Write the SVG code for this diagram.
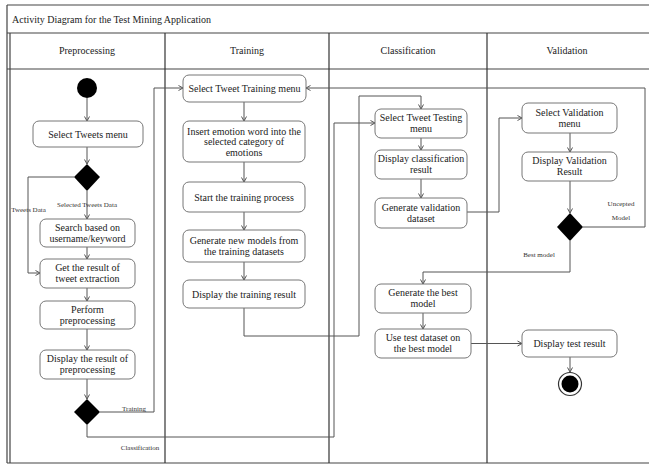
<svg xmlns="http://www.w3.org/2000/svg" width="649" height="466" viewBox="0 0 649 466">
  <style>
    .frame { fill: none; stroke: #444; stroke-width: 1.2; }
    .lane { stroke: #333; stroke-width: 1.2; }
    .box { fill: #fff; stroke: #777; stroke-width: 1; }
    .t { font-family: "Liberation Serif", "Times New Roman", serif; font-size: 10px; fill: #222; text-anchor: middle; }
    .title { font-family: "Liberation Serif", "Times New Roman", serif; font-size: 10px; fill: #222; }
    .lbl { font-family: "Liberation Serif", "Times New Roman", serif; font-size: 7px; fill: #333; text-anchor: middle; }
    .edge { fill: none; stroke: #555; stroke-width: 1; marker-end: url(#arrow); }
    .dec { fill: #000; }
  </style>
  <defs>
    <marker id="arrow" markerWidth="8" markerHeight="8" refX="7" refY="4" orient="auto" markerUnits="userSpaceOnUse">
      <polyline points="2.5,1.5 7,4 2.5,6.5" fill="none" stroke="#555" stroke-width="1"/>
    </marker>
  </defs>

  <rect width="649" height="466" fill="#fff"/>

  <!-- frame, title bar and swimlane headers -->
  <g id="frame">
    <line class="frame" x1="7" y1="5" x2="649" y2="5"/>
    <line class="frame" x1="7" y1="5" x2="7" y2="463"/>
    <line class="frame" x1="10" y1="33" x2="10" y2="463"/>
    <line class="frame" x1="7" y1="33" x2="649" y2="33"/>
    <line class="frame" x1="7" y1="69" x2="649" y2="69"/>
    <line class="frame" x1="7" y1="463" x2="649" y2="463"/>
    <line class="lane" x1="165" y1="33" x2="165" y2="463"/>
    <line class="lane" x1="329" y1="33" x2="329" y2="463"/>
    <line class="lane" x1="487" y1="33" x2="487" y2="463"/>
    <text class="title" x="12" y="23">Activity Diagram for the Test Mining Application</text>
    <text class="t" x="87" y="54">Preprocessing</text>
    <text class="t" x="247" y="54">Training</text>
    <text class="t" x="408" y="54">Classification</text>
    <text class="t" x="567" y="54">Validation</text>
  </g>

  <!-- connectors -->
  <g id="connectors">
    <line class="edge" x1="87" y1="98" x2="87" y2="121"/>
    <line class="edge" x1="87" y1="147" x2="87" y2="164"/>
    <line class="edge" x1="87" y1="191" x2="87" y2="219"/>
    <polyline class="edge" points="74,177 28,177 28,273 40,273"/>
    <line class="edge" x1="87" y1="247" x2="87" y2="259"/>
    <line class="edge" x1="87" y1="288" x2="87" y2="301"/>
    <line class="edge" x1="87" y1="329" x2="87" y2="350"/>
    <line class="edge" x1="87" y1="379" x2="87" y2="399"/>
    <polyline class="edge" points="100,412 154,412 154,88 183,88"/>
    <polyline class="edge" points="87,425 87,437 334,437 334,123 375,123"/>
    <line class="edge" x1="244" y1="102" x2="244" y2="121"/>
    <line class="edge" x1="244" y1="162" x2="244" y2="182"/>
    <line class="edge" x1="244" y1="212" x2="244" y2="230"/>
    <line class="edge" x1="244" y1="262" x2="244" y2="280"/>
    <polyline class="edge" points="244,308 244,336 359,336 359,96 421,96 421,109"/>
    <line class="edge" x1="421" y1="138" x2="421" y2="150"/>
    <line class="edge" x1="421" y1="179" x2="421" y2="198"/>
    <polyline class="edge" points="467,212 499,212 499,118 522,118"/>
    <line class="edge" x1="570" y1="133" x2="570" y2="152"/>
    <line class="edge" x1="570" y1="181" x2="570" y2="213"/>
    <polyline class="edge" points="583,227 645,227 645,88 306,88"/>
    <polyline class="edge" points="570,241 570,272 423,272 423,284"/>
    <line class="edge" x1="423" y1="313" x2="423" y2="329"/>
    <line class="edge" x1="471" y1="343.5" x2="522" y2="343.5"/>
    <line class="edge" x1="570" y1="357" x2="570" y2="372"/>
    <text class="lbl" x="87" y="206.5">Selected Tweets Data</text>
    <text class="lbl" x="28.5" y="211.5">Tweets Data</text>
    <text class="lbl" x="134" y="410.5">Training</text>
    <text class="lbl" x="140" y="449.5">Classification</text>
    <text class="lbl" x="621" y="205.5">Uncepted</text>
    <text class="lbl" x="621" y="219.5">Model</text>
    <text class="lbl" x="539" y="256.5">Best model</text>
  </g>

  <!-- Preprocessing lane -->
  <g id="start"><circle cx="87" cy="88" r="10" class="dec"/></g>
  <g id="select-tweets-menu">
    <rect class="box" x="33" y="121" width="110" height="26" rx="6"/>
    <text class="t" x="88" y="137.5">Select Tweets menu</text>
  </g>
  <g id="decision-data"><polygon class="dec" points="87,164 100,177 87,191 74,177"/></g>
  <g id="search">
    <rect class="box" x="40" y="219" width="95" height="28" rx="6"/>
    <text class="t" x="87.5" y="230.5">Search based on</text>
    <text class="t" x="87.5" y="241.5">username/keyword</text>
  </g>
  <g id="get-result">
    <rect class="box" x="40" y="259" width="95" height="29" rx="6"/>
    <text class="t" x="87.5" y="271">Get the result of</text>
    <text class="t" x="87.5" y="282">tweet extraction</text>
  </g>
  <g id="perform-preprocessing">
    <rect class="box" x="40" y="301" width="95" height="28" rx="6"/>
    <text class="t" x="87.5" y="312.5">Perform</text>
    <text class="t" x="87.5" y="323.5">preprocessing</text>
  </g>
  <g id="display-preprocessing">
    <rect class="box" x="40" y="350" width="95" height="29" rx="6"/>
    <text class="t" x="87.5" y="362">Display the result of</text>
    <text class="t" x="87.5" y="373">preprocessing</text>
  </g>
  <g id="decision-route"><polygon class="dec" points="87,399 100,412 87,425 74,412"/></g>

  <!-- Training lane -->
  <g id="select-training-menu">
    <rect class="box" x="183" y="75" width="123" height="27" rx="6"/>
    <text class="t" x="244.5" y="92">Select Tweet Training menu</text>
  </g>
  <g id="insert-emotion">
    <rect class="box" x="183" y="121" width="122" height="41" rx="6"/>
    <text class="t" x="244" y="134.5">Insert emotion word into the</text>
    <text class="t" x="244" y="145">selected category of</text>
    <text class="t" x="244" y="155.5">emotions</text>
  </g>
  <g id="start-training">
    <rect class="box" x="183" y="182" width="122" height="30" rx="6"/>
    <text class="t" x="244" y="200.5">Start the training process</text>
  </g>
  <g id="generate-models">
    <rect class="box" x="183" y="230" width="122" height="32" rx="6"/>
    <text class="t" x="244" y="243.5">Generate new models from</text>
    <text class="t" x="244" y="254.5">the training datasets</text>
  </g>
  <g id="display-training">
    <rect class="box" x="183" y="280" width="122" height="28" rx="6"/>
    <text class="t" x="244" y="297.5">Display the training result</text>
  </g>

  <!-- Classification lane -->
  <g id="select-testing-menu">
    <rect class="box" x="375" y="109" width="92" height="29" rx="6"/>
    <text class="t" x="421" y="121">Select Tweet Testing</text>
    <text class="t" x="421" y="132">menu</text>
  </g>
  <g id="display-classification">
    <rect class="box" x="375" y="150" width="92" height="29" rx="6"/>
    <text class="t" x="421" y="162">Display classification</text>
    <text class="t" x="421" y="173">result</text>
  </g>
  <g id="generate-validation">
    <rect class="box" x="375" y="198" width="92" height="30" rx="6"/>
    <text class="t" x="421" y="210.5">Generate validation</text>
    <text class="t" x="421" y="221.5">dataset</text>
  </g>
  <g id="generate-best">
    <rect class="box" x="375" y="284" width="96" height="29" rx="6"/>
    <text class="t" x="423" y="296">Generate the best</text>
    <text class="t" x="423" y="307">model</text>
  </g>
  <g id="use-test-dataset">
    <rect class="box" x="375" y="329" width="96" height="29" rx="6"/>
    <text class="t" x="423" y="341">Use test dataset on</text>
    <text class="t" x="423" y="352">the best model</text>
  </g>

  <!-- Validation lane -->
  <g id="select-validation-menu">
    <rect class="box" x="522" y="103" width="95" height="30" rx="6"/>
    <text class="t" x="569.5" y="115.5">Select Validation</text>
    <text class="t" x="569.5" y="126.5">menu</text>
  </g>
  <g id="display-validation">
    <rect class="box" x="522" y="152" width="95" height="29" rx="6"/>
    <text class="t" x="569.5" y="164">Display Validation</text>
    <text class="t" x="569.5" y="175">Result</text>
  </g>
  <g id="decision-model"><polygon class="dec" points="570,213 583,227 570,241 557,227"/></g>
  <g id="display-test-result">
    <rect class="box" x="522" y="330" width="95" height="27" rx="6"/>
    <text class="t" x="569.5" y="347">Display test result</text>
  </g>
  <g id="end">
    <circle cx="570" cy="384" r="11.5" fill="#fff" stroke="#333" stroke-width="1.2"/>
    <circle cx="570" cy="384" r="8.5" class="dec"/>
  </g>
</svg>
